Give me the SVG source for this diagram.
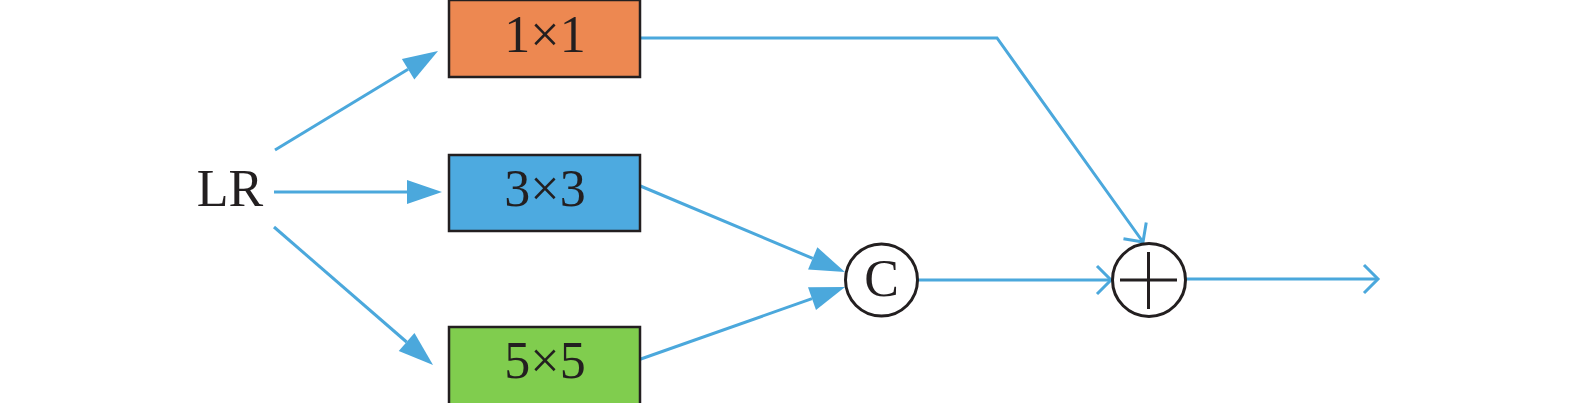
<svg xmlns="http://www.w3.org/2000/svg" width="1575" height="403" viewBox="0 0 1575 403">
<style>
.box{stroke:#231F20;stroke-width:2.5}
.lbl{font-family:"Liberation Serif","Times New Roman",serif;font-size:52px;fill:#231F20;text-anchor:middle}
.ln{fill:none;stroke:#4BA8DC;stroke-width:3}
.circ{fill:#fff;stroke:#231F20;stroke-width:3}
</style>
<defs>
<marker id="tri" markerUnits="userSpaceOnUse" markerWidth="40" markerHeight="30" viewBox="0 -15 40 30" refX="0" refY="0" orient="auto" overflow="visible">
<path d="M0,-12 L35,0 L0,12 z" fill="#4BA8DC"/>
</marker>
<marker id="chev" markerUnits="userSpaceOnUse" markerWidth="30" markerHeight="40" viewBox="-20 -20 30 40" refX="0" refY="0" orient="auto" overflow="visible">
<path d="M-14,-14 L0,0 L-14,14" fill="none" stroke="#4BA8DC" stroke-width="3"/>
</marker>
</defs>
<rect width="1575" height="403" fill="#fff"/>
<g id="connectors">
<path class="ln" d="M275,150 L408.1,69.2" marker-end="url(#tri)"/>
<path class="ln" d="M274,192 L407,192" marker-end="url(#tri)"/>
<path class="ln" d="M274,227 L406.6,342" marker-end="url(#tri)"/>
<path class="ln" d="M638,185 L812.7,258.4" marker-end="url(#tri)"/>
<path class="ln" d="M638,360 L812,298.6" marker-end="url(#tri)"/>
<path class="ln" d="M640,38 L997,38 L1143,242" marker-end="url(#chev)"/>
<path class="ln" d="M918,280 L1111,280" marker-end="url(#chev)"/>
<path class="ln" d="M1186,279 L1378,279" marker-end="url(#chev)"/>
</g>
<g id="LR">
<text class="lbl" x="230" y="206">LR</text>
</g>
<g id="box1x1">
<rect class="box" x="449" y="0" width="191" height="77" fill="#ED8851"/>
<text class="lbl" x="545" y="52">1×1</text>
</g>
<g id="box3x3">
<rect class="box" x="449" y="155" width="191" height="76" fill="#4DAAE0"/>
<text class="lbl" x="545" y="206">3×3</text>
</g>
<g id="box5x5">
<rect class="box" x="449" y="327" width="191" height="90" fill="#80CD4E"/>
<text class="lbl" x="545" y="378">5×5</text>
</g>
<g id="concat">
<circle class="circ" cx="881.5" cy="280" r="36"/>
<text class="lbl" x="881.5" y="296">C</text>
</g>
<g id="add">
<circle class="circ" cx="1149" cy="280" r="36.5"/>
<path d="M1120,280 L1177,280 M1148.5,252 L1148.5,309" stroke="#231F20" stroke-width="3"/>
</g>
</svg>
